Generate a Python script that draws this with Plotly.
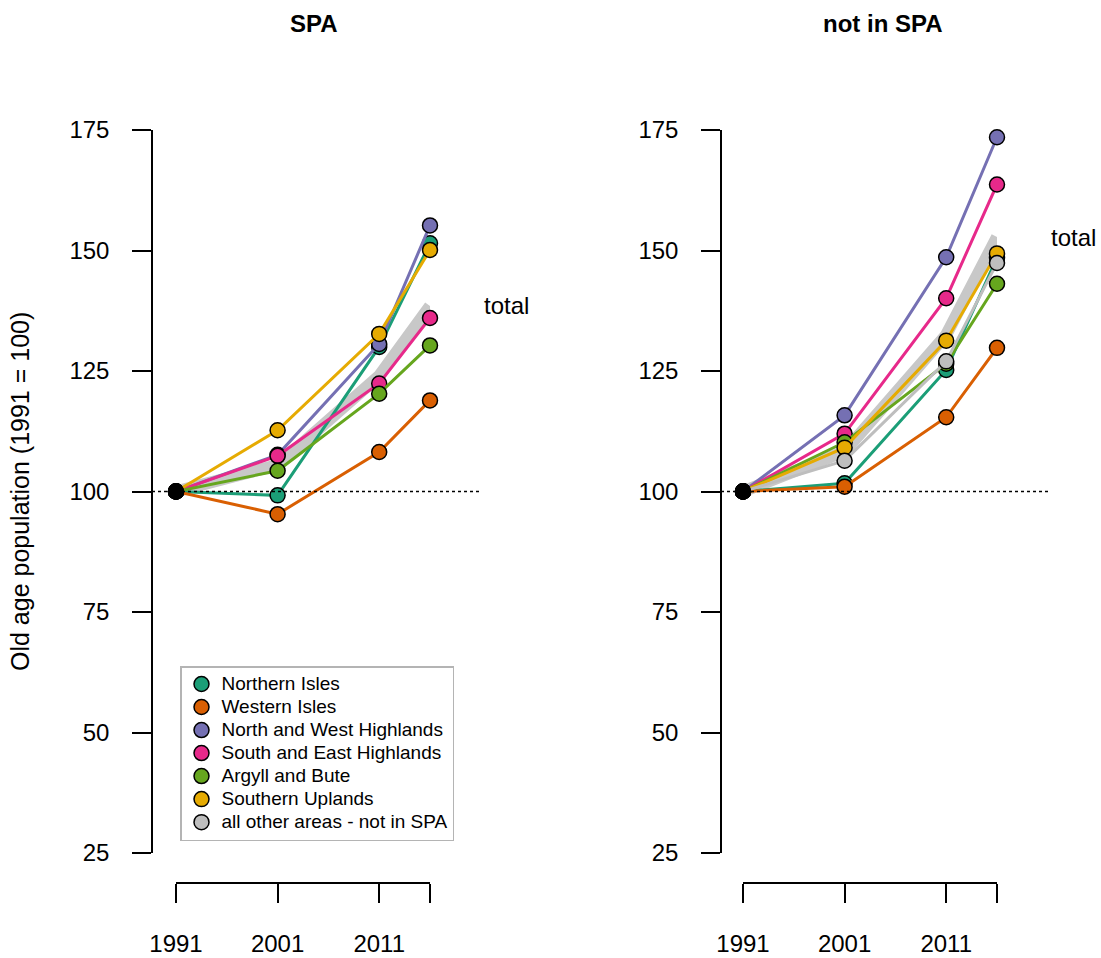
import plotly.graph_objects as go

# ---------------- data ----------------
years = [1991, 2001, 2011, 2016]
year_labels = ["1991", "2001", "2011", ""]
y_ticks = [25, 50, 75, 100, 125, 150, 175]

regions = ["Northern Isles", "Western Isles", "North and West Highlands",
           "South and East Highlands", "Argyll and Bute", "Southern Uplands",
           "all other areas - not in SPA"]
colors = ["#1B9E77", "#D95F02", "#7570B3", "#E7298A", "#66A61E", "#E6AB02", "#BEBEBE"]

# SPA panel
northern_isles_spa = [100, 99.2, 130.0, 151.5]
western_isles_spa = [100, 95.3, 108.2, 118.9]
nw_highlands_spa = [100, 107.6, 130.6, 155.2]
se_highlands_spa = [100, 107.4, 122.4, 136.0]
argyll_spa = [100, 104.3, 120.3, 130.3]
southern_uplands_spa = [100, 112.7, 132.7, 150.1]
total_spa = [100, 105.5, 124.0, 138.5]

# not in SPA panel
northern_isles_non = [100, 101.7, 125.2, 148.5]
western_isles_non = [100, 101.0, 115.4, 129.8]
nw_highlands_non = [100, 115.8, 148.6, 173.5]
se_highlands_non = [100, 112.0, 140.1, 163.7]
argyll_non = [100, 110.2, 126.5, 143.1]
southern_uplands_non = [100, 109.1, 131.3, 149.4]
other_areas_non = [100, 106.4, 127.0, 147.4]
total_non = [100, 108.3, 132.5, 152.8]

spa_series = [northern_isles_spa, western_isles_spa, nw_highlands_spa,
              se_highlands_spa, argyll_spa, southern_uplands_spa]
non_series = [northern_isles_non, western_isles_non, nw_highlands_non,
              se_highlands_non, argyll_non, southern_uplands_non, other_areas_non]

panel_titles = ["SPA", "not in SPA"]
y_title = "Old age population (1991 = 100)"
total_label = "total"
baseline = 100

# ---------------- layout geometry ----------------
W, H = 1101, 958
FONT = "Liberation Sans, Arial, sans-serif"


def px_x(p):
    return p / W


def px_y(p):
    return (H - p) / H


panels = [
    dict(x0=176, x1=430, yaxis_x=152),
    dict(x0=743, x1=997, yaxis_x=721),
]
Y_TOP, Y_BOT, XAXIS_Y = 130, 853, 883

fig = go.Figure()

panel_data = [(spa_series, total_spa), (non_series, total_non)]
for pi, (series, total) in enumerate(panel_data):
    xa = "x" if pi == 0 else "x2"
    ya = "y" if pi == 0 else "y2"
    # thick grey total line
    fig.add_trace(go.Scatter(
        x=years, y=total, mode="lines", xaxis=xa, yaxis=ya,
        line=dict(color="rgb(200,200,200)", width=12),
        showlegend=False, hoverinfo="skip"))
    for si, vals in enumerate(series):
        fig.add_trace(go.Scatter(
            x=years, y=vals, mode="lines+markers", xaxis=xa, yaxis=ya,
            line=dict(color=colors[si], width=3),
            marker=dict(size=15, color=colors[si], line=dict(color="black", width=1.5)),
            cliponaxis=False, showlegend=False, name=regions[si]))
    # common starting point
    fig.add_trace(go.Scatter(
        x=[years[0]], y=[series[0][0]], mode="markers", xaxis=xa, yaxis=ya,
        marker=dict(size=15, color="black", line=dict(color="black", width=1.5)),
        cliponaxis=False, showlegend=False, hoverinfo="skip"))

# legend-only traces (text drawn at 19px, row height set by base legend font)
for name, col in zip(regions, colors):
    fig.add_trace(go.Scatter(
        x=[None], y=[None], mode="markers",
        name='<span style="font-size:19px">' + name + "</span>",
        marker=dict(size=15, color=col, line=dict(color="black", width=1.5)),
        showlegend=True))

layout = dict(
    template="none",
    width=W, height=H, autosize=False,
    margin=dict(l=0, r=0, t=0, b=0, autoexpand=False),
    paper_bgcolor="white", plot_bgcolor="rgba(0,0,0,0)",
    font=dict(family=FONT, size=24, color="black"),
    showlegend=True,
    legend=dict(x=px_x(180), y=px_y(666), xanchor="left", yanchor="top",
                bordercolor="#b4b4b4", borderwidth=1.5, bgcolor="white",
                font=dict(family=FONT, size=15.4, color="black"),
                itemwidth=30, tracegroupgap=0),
)

shapes = []
annotations = []
for pi, p in enumerate(panels):
    sfx = "" if pi == 0 else "2"
    dom_x = [px_x(p["x0"]), px_x(p["x1"])]
    layout["xaxis" + sfx] = dict(
        domain=dom_x, range=[years[0], years[-1]], anchor="free",
        position=px_y(XAXIS_Y), tickmode="array", tickvals=years, ticktext=year_labels,
        ticks="outside", ticklen=19, tickwidth=1.5, tickcolor="black",
        showline=True, linecolor="black", linewidth=1.5, showgrid=False,
        zeroline=False, ticklabelstandoff=20, tickfont=dict(size=24),
        automargin=False)
    layout["yaxis" + sfx] = dict(
        domain=[px_y(Y_BOT), px_y(Y_TOP)], range=[y_ticks[0], y_ticks[-1]],
        anchor="free", position=px_x(p["yaxis_x"]), tickmode="array",
        tickvals=y_ticks, ticks="outside", ticklen=19, tickwidth=1.5,
        tickcolor="black", showline=True, linecolor="black", linewidth=1.5,
        showgrid=False, zeroline=False, ticklabelstandoff=18,
        tickfont=dict(size=24), automargin=False)
    # dotted reference line at 100
    shapes.append(dict(type="line", xref="paper", yref="y" + sfx,
                       x0=px_x(p["yaxis_x"]), x1=px_x(p["yaxis_x"] + 327),
                       y0=baseline, y1=baseline,
                       line=dict(color="black", width=1.5, dash="dot")))
    # panel title
    annotations.append(dict(text="<b>" + panel_titles[pi] + "</b>", xref="paper",
                            yref="paper", x=px_x(p["yaxis_x"] + 162), y=px_y(23),
                            xanchor="center", yanchor="middle", showarrow=False,
                            font=dict(size=24, family=FONT)))
    # "total" label next to the end of the total line
    tot = panel_data[pi][1]
    annotations.append(dict(text=total_label, xref="paper", yref="y" + sfx,
                            x=px_x(p["x1"] + 52), y=tot[-1], xanchor="left",
                            yanchor="middle", showarrow=False,
                            font=dict(size=24, family=FONT)))

annotations.append(dict(text=y_title, xref="paper", yref="paper",
                        x=px_x(20), y=px_y(492), textangle=-90,
                        xanchor="center", yanchor="middle", showarrow=False,
                        font=dict(size=25, family=FONT)))

layout["shapes"] = shapes
layout["annotations"] = annotations
fig.update_layout(**layout)

fig.write_html("out.html", config={"displayModeBar": False},
               post_script="document.body.style.margin='0';")
